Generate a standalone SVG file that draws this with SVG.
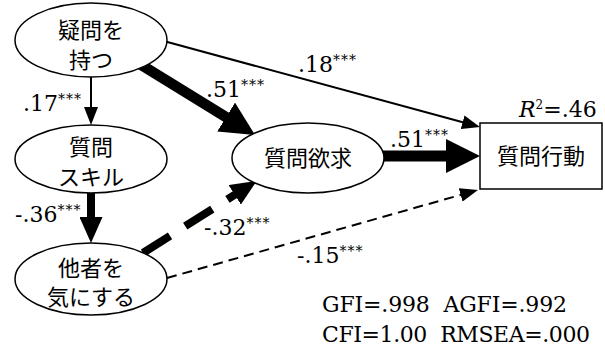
<svg xmlns="http://www.w3.org/2000/svg" width="605" height="347" viewBox="0 0 605 347">
<style>
.node{fill:#fff;stroke:#000;stroke-width:1.5}
.jp{font-family:"Noto Sans CJK JP","Noto Sans CJK SC",sans-serif;font-size:22px;fill:#000;text-anchor:middle}
.num{font-family:"DejaVu Serif","Liberation Serif",serif;font-size:22px;fill:#000}
.st{font-size:14px;letter-spacing:1px;fill:#000}
.fit{font-family:"DejaVu Serif","Liberation Serif",serif;font-size:22px;fill:#000;white-space:pre}
.thin{stroke:#000;stroke-width:2;fill:none}
</style>
<defs>
<marker id="ahS" markerUnits="userSpaceOnUse" markerWidth="18" markerHeight="14" refX="4" refY="7" orient="auto"><path d="M0,0 L18,7 L0,14 z" fill="#000"/></marker>
<marker id="ahB" markerUnits="userSpaceOnUse" markerWidth="34" markerHeight="34" refX="4" refY="17" orient="auto"><path d="M0,0 L34,17 L0,34 z" fill="#000"/></marker>
<marker id="ahM" markerUnits="userSpaceOnUse" markerWidth="26" markerHeight="23" refX="4" refY="11.5" orient="auto"><path d="M0,0 L26,11.5 L0,23 z" fill="#000"/></marker>
</defs>
<g id="connectors">
<line class="thin" x1="91" y1="77" x2="91" y2="111" marker-end="url(#ahS)"/>
<line x1="130" y1="58" x2="229.5" y2="119.2" stroke="#000" stroke-width="10.5" marker-end="url(#ahB)"/>
<line class="thin" x1="160" y1="40" x2="466.5" y2="123.3" marker-end="url(#ahS)"/>
<line x1="380" y1="156" x2="450" y2="156" stroke="#000" stroke-width="11" marker-end="url(#ahB)"/>
<line x1="91" y1="190" x2="91" y2="221" stroke="#000" stroke-width="8" marker-end="url(#ahM)"/>
<line x1="143" y1="253" x2="238.1" y2="192.7" stroke="#000" stroke-width="8" stroke-dasharray="32 18" marker-end="url(#ahM)"/>
<line class="thin" x1="167" y1="278" x2="464.5" y2="193.8" stroke-dasharray="10 6" marker-end="url(#ahS)"/>
</g>
<g id="n1"><ellipse class="node" cx="91" cy="40" rx="76" ry="37"/><text class="jp" x="91" y="38">疑問を</text><text class="jp" x="91" y="68">持つ</text></g>
<g id="n2"><ellipse class="node" cx="91" cy="159" rx="76" ry="34"/><text class="jp" x="91" y="155">質問</text><text class="jp" x="91" y="185">スキル</text></g>
<g id="n3"><ellipse class="node" cx="91" cy="279" rx="76" ry="36"/><text class="jp" x="91" y="276">他者を</text><text class="jp" x="91" y="305">気にする</text></g>
<g id="n4"><ellipse class="node" cx="308" cy="158" rx="76" ry="35"/><text class="jp" x="308" y="166">質問欲求</text></g>
<g id="n5"><rect class="node" x="480" y="123" width="122" height="66"/><text class="jp" x="541" y="164">質問行動</text></g>
<g id="labels">
<text class="num" x="23" y="111">.17<tspan class="st" dy="-7">***</tspan></text>
<text class="num" x="206" y="97">.51<tspan class="st" dy="-7">***</tspan></text>
<text class="num" x="298" y="72">.18<tspan class="st" dy="-7">***</tspan></text>
<text class="num" x="390" y="147">.51<tspan class="st" dy="-7">***</tspan></text>
<text class="num" x="15" y="222">-.36<tspan class="st" dy="-7">***</tspan></text>
<text class="num" x="204" y="235">-.32<tspan class="st" dy="-7">***</tspan></text>
<text class="num" x="297" y="263">-.15<tspan class="st" dy="-7">***</tspan></text>
<text class="num" x="519" y="117"><tspan font-style="italic">R</tspan><tspan font-size="12" dy="-8">2</tspan><tspan dy="8">=.46</tspan></text>
<text class="fit" x="322" y="312" textLength="245" lengthAdjust="spacing">GFI=.998  AGFI=.992</text>
<text class="fit" x="322" y="342" textLength="268" lengthAdjust="spacing">CFI=1.00  RMSEA=.000</text>
</g>
</svg>
